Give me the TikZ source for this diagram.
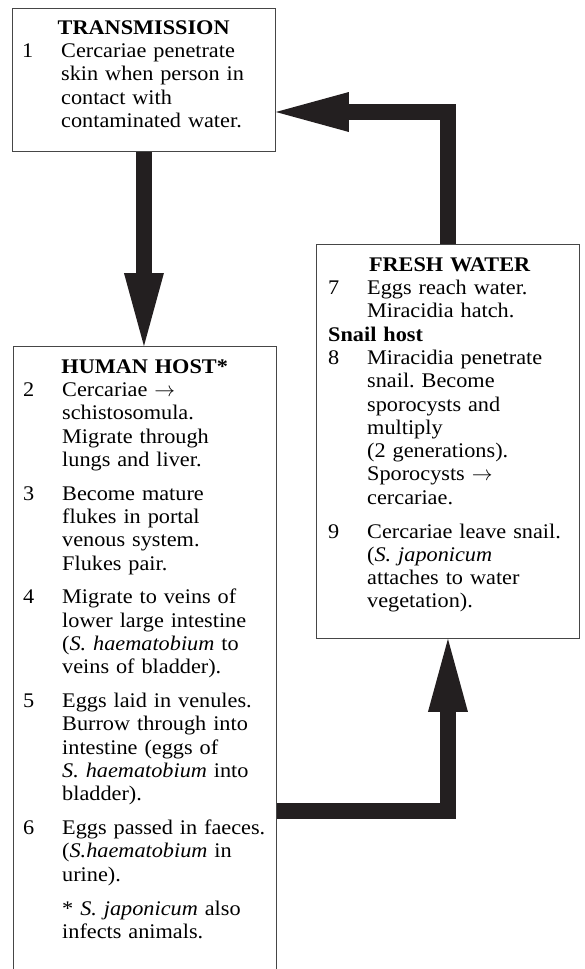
\documentclass[tikz,border=0pt]{standalone}
\usepackage{fontspec}
\setmainfont[FakeStretch=1.07]{Liberation Serif}
\usetikzlibrary{arrows.meta,positioning,calc}
\definecolor{arrowblack}{RGB}{35,31,32}
\definecolor{framegray}{RGB}{70,70,70}
\tikzset{
  stagebox/.style={draw=framegray,line width=0.9pt,minimum width=263pt,
    inner sep=0pt,anchor=north west},
  stageframe/.style={draw=framegray,line width=0.9pt},
  stagetext/.style={anchor=north west,inner sep=0pt,text width=243pt,
    align=left,font=\fontsize{20.8}{23.3}\selectfont\frenchspacing}
  ,cyclearrow/.style={line width=16pt,draw=arrowblack,
    -{Triangle[length=73pt,width=40pt,line width=0pt]}}
}
\newcommand{\boxhead}[1]{\noindent\hbox to 243pt{\hfil\rule{0pt}{15pt}\textbf{#1}\hfil}\par}
\newcommand{\stageitem}[2]{\noindent\hangindent=39pt\hangafter=1\makebox[39pt][l]{#1}#2\par}
\newcommand{\stagenote}[1]{\noindent\hangindent=39pt\hangafter=0 #1\par}
\newcommand{\itemgap}{\vspace{10.5pt}}
\newcommand{\becomes}{$\rightarrow$}

\begin{document}
\begin{tikzpicture}[x=1pt,y=-1pt]
  \useasboundingbox (0,0) rectangle (585,969);
  % the three stages
  \node[stagebox,minimum height=143pt] (trans) at (12,8) {};
  \node[stagebox,draw=none,minimum height=623pt] (human) at (13,346) {};
  \draw[stageframe] (human.south west) -- (human.north west)
    -- (human.north east) -- (human.south east);
  \node[stagebox,minimum height=394pt] (fresh) at (316,244) {};

  \node[stagetext,text width=260pt] (transtext) at ([shift={(10pt,-11pt)}]trans.north west) {%
    \boxhead{TRANSMISSION}
    \stageitem{1}{Cercariae penetrate\newline skin when person in\newline
      contact with\newline contaminated water.}};

  \node[stagetext,text width=260pt] (humantext) at ([shift={(10pt,-12pt)}]human.north west) {%
    \boxhead{HUMAN HOST*}
    \stageitem{2}{Cercariae \becomes\newline schistosomula.\newline
      Migrate through\newline lungs and liver.}\itemgap
    \stageitem{3}{Become mature\newline flukes in portal\newline
      venous system.\newline Flukes pair.}\itemgap
    \stageitem{4}{Migrate to veins of\newline lower large intestine\newline
      (\textit{S. haematobium} to\newline veins of bladder).}\itemgap
    \stageitem{5}{Eggs laid in venules.\newline Burrow through into\newline
      intestine (eggs of\newline \textit{S. haematobium} into\newline bladder).}\itemgap
    \stageitem{6}{Eggs passed in faeces.\newline (\textit{S.haematobium} in\newline
      urine).}\itemgap
    \stagenote{* \textit{S. japonicum} also\newline infects animals.}};

  \node[stagetext,text width=260pt] (freshtext) at ([shift={(12pt,-12pt)}]fresh.north west) {%
    \boxhead{FRESH WATER}
    \stageitem{7}{Eggs reach water.\newline Miracidia hatch.}
    \noindent\textbf{Snail host}\par
    \stageitem{8}{Miracidia penetrate\newline snail. Become\newline
      sporocysts and\newline multiply\newline (2 generations).\newline
      Sporocysts \becomes\newline cercariae.}\itemgap
    \stageitem{9}{Cercariae leave snail.\newline (\textit{S. japonicum}\newline
      attaches to water\newline vegetation).}};

  % the cycle
  \coordinate (humanout) at (human.east |- 0,811);
  \coordinate (transin) at (trans.east |- 0,112);
  \draw[cyclearrow] (trans.south) -- (trans.south |- human.north);
  \draw[cyclearrow] (humanout) -| (fresh.south);
  \draw[cyclearrow] (fresh.north) |- (transin);
\end{tikzpicture}
\end{document}
